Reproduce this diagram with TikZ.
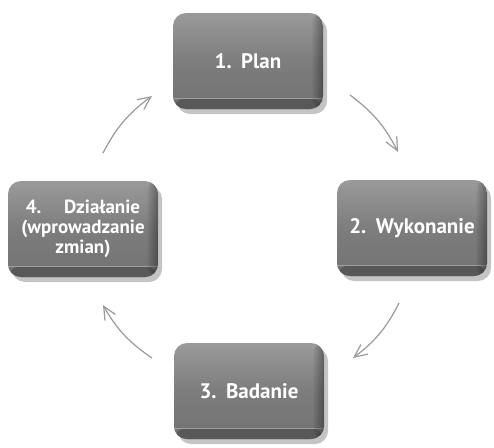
\documentclass[tikz,border=0pt]{standalone}
\usepackage{fontspec}
\setmainfont{PT Sans}
\usetikzlibrary{arrows.meta,shadows,fadings}
\definecolor{boxtop}{HTML}{9A9A9A}
\definecolor{boxmid}{HTML}{7D7D7D}
\definecolor{boxbot}{HTML}{727272}
\definecolor{boxband}{HTML}{585858}
\definecolor{boxline}{HTML}{9E9E9E}
\definecolor{boxshadow}{HTML}{C4C4C4}
\definecolor{arrowgray}{HTML}{9A9A9A}
\tikzfading[name=fadeR, left color=transparent!100, right color=transparent!0]
\begin{document}
\begin{tikzpicture}[x=1pt,y=1pt,
  stepbox/.style={rounded corners=13pt, minimum width=150pt, minimum height=96pt,
    inner xsep=1pt, inner ysep=2pt, text=white, align=center,
    font=\bfseries\fontsize{21}{21}\selectfont,
    top color=boxtop, bottom color=boxbot, middle color=boxmid,
    drop shadow={shadow xshift=4pt, shadow yshift=-5pt, fill=boxshadow, opacity=1},
    path picture={
      \fill[boxband] (path picture bounding box.south west) rectangle ([yshift=11pt]path picture bounding box.south east);
      \draw[boxline, line width=0.8pt] ([yshift=11pt]path picture bounding box.south west) -- ([yshift=11pt]path picture bounding box.south east);
      \fill[black, opacity=0.35, path fading=fadeR] ([xshift=-12pt]path picture bounding box.north east) rectangle (path picture bounding box.south east);
    }},
  smalltext/.style={font=\bfseries\fontsize{19}{20}\selectfont},
  cyc/.style={draw=arrowgray, line width=1.2pt, -{Straight Barb[length=13pt,width=12pt]}, bend left=13}
]
\useasboundingbox (0,0) rectangle (494,-447);
\node[stepbox] (plan) at (248,-61) {1.\hspace{0.45em}Plan};
\node[stepbox] (wyk) at (412,-228) {2.\hspace{0.45em}Wykonanie};
\node[stepbox] (bad) at (249,-391) {3.\hspace{0.45em}Badanie};
\node[stepbox, smalltext] (dzi) at (83,-229) {4.\hspace{1.2em}Działanie\\(wprowadzanie\\zmian)};
\coordinate (a1s) at (103,-153); \coordinate (a1e) at (152,-96);
\coordinate (a2s) at (350,-95);  \coordinate (a2e) at (398,-152);
\coordinate (a3s) at (399,-303); \coordinate (a3e) at (353,-358);
\coordinate (a4s) at (152,-358); \coordinate (a4e) at (103,-305);
\draw[cyc] (a1s) to (a1e);
\draw[cyc] (a2s) to (a2e);
\draw[cyc] (a3s) to (a3e);
\draw[cyc] (a4s) to (a4e);
\end{tikzpicture}
\end{document}
